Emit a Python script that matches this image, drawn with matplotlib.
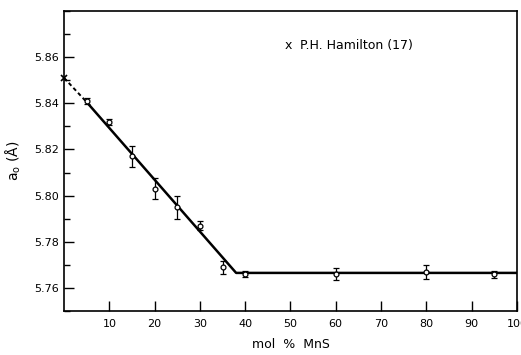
import matplotlib
matplotlib.use("Agg")
import matplotlib.pyplot as plt
from matplotlib.ticker import MultipleLocator

# valeurs
x_mes = [5, 10, 15, 20, 25, 30, 35, 40, 60, 80, 95]
y_mes = [5.841, 5.832, 5.817, 5.803, 5.795, 5.787, 5.769, 5.766, 5.766, 5.767, 5.766]
err_mes = [0.0015, 0.0012, 0.0045, 0.0045, 0.005, 0.0018, 0.0028, 0.0013, 0.0025, 0.003, 0.0015]

# point de Hamilton
x_ham = [0]
y_ham = [5.851]

# droites d'ajustement
x_pointille = [0, 5]
y_pointille = [5.851, 5.8405]
x_trait = [5, 38, 100]
y_trait = [5.8405, 5.7665, 5.7665]

fig = plt.figure(figsize=(5.21, 3.55), dpi=100)
ax = fig.add_axes([0.123, 0.124, 0.869, 0.845])

ax.plot(x_pointille, y_pointille, color="black", lw=1.4, ls=(0, (2, 1.5)))
ax.plot(x_trait, y_trait, color="black", lw=1.8)
ax.errorbar(x_mes, y_mes, yerr=err_mes, fmt="o", ms=3.5, mfc="white", mec="black",
            mew=0.9, ecolor="black", elinewidth=0.9, capsize=2, capthick=0.9, zorder=3)
ax.plot(x_ham, y_ham, "x", color="black", ms=4, mew=1.2, clip_on=False, zorder=4)

ax.set_xlim(0, 100)
ax.set_ylim(5.75, 5.88)
ax.set_xticks(range(10, 101, 10))
ax.set_yticks([5.76, 5.78, 5.80, 5.82, 5.84, 5.86])
ax.yaxis.set_minor_locator(MultipleLocator(0.01))
ax.set_yticklabels(["5.76", "5.78", "5.80", "5.82", "5.84", "5.86"])
ax.tick_params(axis="both", which="major", direction="in", length=7, width=1, labelsize=8)
ax.tick_params(axis="y", which="minor", direction="in", length=4, width=1)
ax.tick_params(axis="x", pad=6)
for s in ax.spines.values():
    s.set_linewidth(1.2)

ax.set_xlabel("mol  %  MnS", fontsize=9, labelpad=6)
ax.set_ylabel("a$_\\mathregular{o}$ (Å)", fontsize=10, labelpad=8)

ax.text(49.5, 5.865, "x", fontsize=9, va="center", ha="center")
ax.text(52, 5.865, "P.H. Hamilton (17)", fontsize=9, va="center", ha="left")

fig.savefig("out.png", dpi=100)
